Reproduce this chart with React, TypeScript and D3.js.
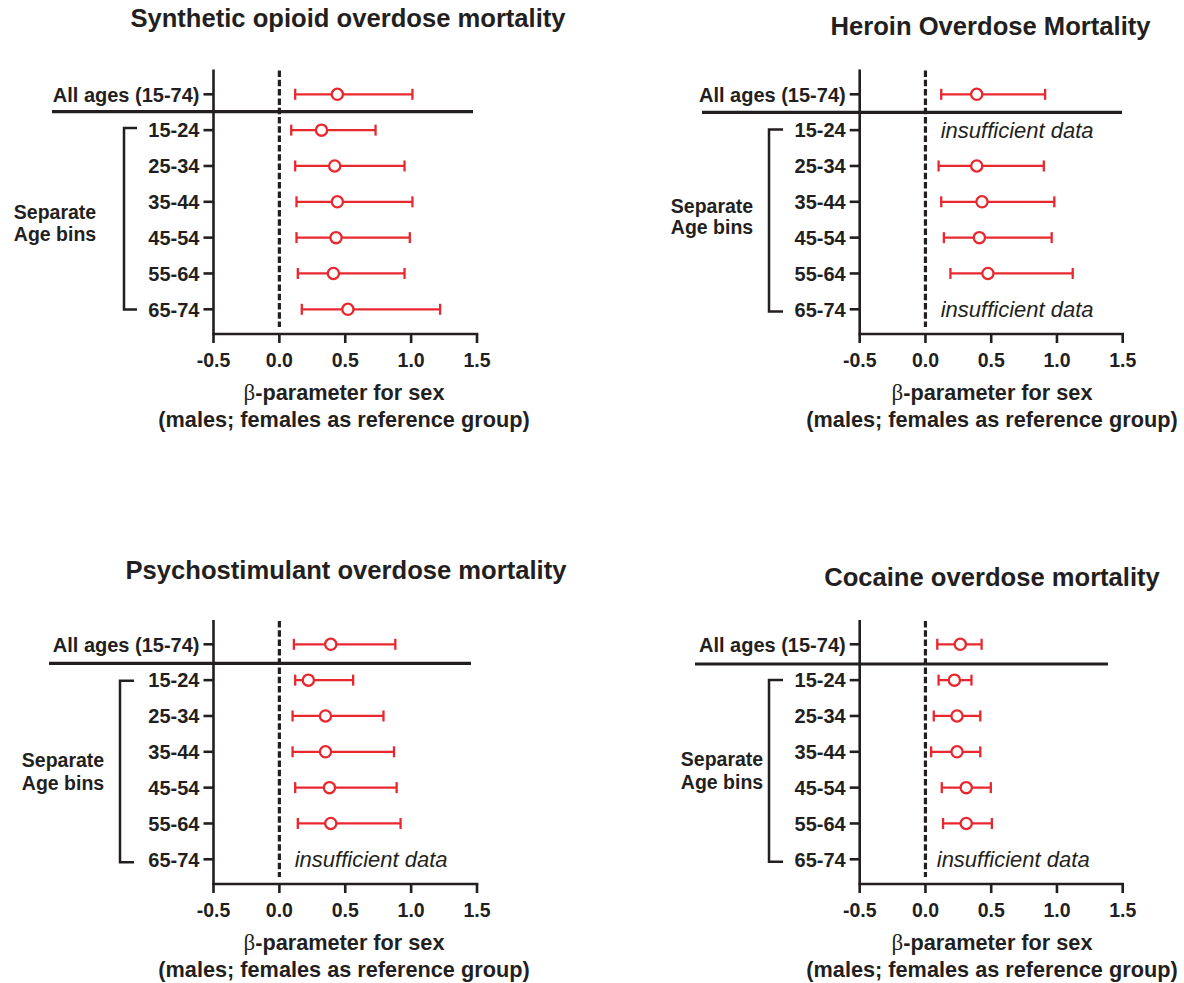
import React from "react";
import * as d3 from "d3";

const AGE_LABELS = ["All ages (15-74)", "15-24", "25-34", "35-44", "45-54", "55-64", "65-74"];
const X_TICKS = [-0.5, 0, 0.5, 1, 1.5];
const X_DOMAIN = [-0.5, 1.5];

const TITLES = [
  "Synthetic opioid overdose mortality",
  "Heroin Overdose Mortality",
  "Psychostimulant overdose mortality",
  "Cocaine overdose mortality",
];

// estimates and 95% CI bounds (null = insufficient data)
const synthEst = [0.44, 0.32, 0.42, 0.44, 0.43, 0.41, 0.52];
const synthLo = [0.12, 0.09, 0.12, 0.13, 0.13, 0.14, 0.17];
const synthHi = [1.01, 0.73, 0.95, 1.01, 0.99, 0.95, 1.22];

const heroinEst = [0.39, null, 0.39, 0.43, 0.41, 0.475, null];
const heroinLo = [0.12, null, 0.1, 0.12, 0.14, 0.19, null];
const heroinHi = [0.91, null, 0.9, 0.98, 0.96, 1.12, null];

const psychoEst = [0.39, 0.22, 0.35, 0.35, 0.38, 0.39, null];
const psychoLo = [0.11, 0.12, 0.1, 0.1, 0.12, 0.14, null];
const psychoHi = [0.88, 0.56, 0.79, 0.87, 0.89, 0.92, null];

const cocaineEst = [0.265, 0.22, 0.24, 0.24, 0.31, 0.31, null];
const cocaineLo = [0.09, 0.1, 0.063, 0.043, 0.124, 0.134, null];
const cocaineHi = [0.427, 0.35, 0.417, 0.417, 0.497, 0.505, null];

const INSUFFICIENT = "insufficient data";
const GROUP_LABEL = ["Separate", "Age bins"];
const BETA = "β";
const AXIS_LABEL_1 = "-parameter for sex";
const AXIS_LABEL_2 = "(males; females as reference group)";

const RED = "#e8282e";
const DARK = "#231f20";
const FONT = "'Liberation Sans', Arial, Helvetica, sans-serif";

type Layout = {
  x0: number; x1: number; rowTop: number; rowBottom: number;
  axisTop: number; axisY: number;
  sepY: number; sepX0: number; sepX1: number;
  brX: number; brArm: number; brTop: number; brBottom: number;
  grpX: number; grpY: number[];
  titleX: number; titleY: number;
  labelX: number; labelY: number[];
  insuffX: number;
};

const LAYOUTS: Layout[] = [
  { x0: 213.5, x1: 477, rowTop: 94.3, rowBottom: 309.3, axisTop: 69.5, axisY: 334,
    sepY: 111.7, sepX0: 52, sepX1: 473, brX: 124, brArm: 137, brTop: 128, brBottom: 309.5,
    grpX: 55, grpY: [218.5, 241], titleX: 348, titleY: 27, labelX: 344, labelY: [400, 427], insuffX: 0.116 },
  { x0: 859.7, x1: 1122.7, rowTop: 94.3, rowBottom: 309.3, axisTop: 69.5, axisY: 334,
    sepY: 112.3, sepX0: 702, sepX1: 1122, brX: 769, brArm: 783, brTop: 129.5, brBottom: 311.5,
    grpX: 712, grpY: [212.7, 234.3], titleX: 990.5, titleY: 35, labelX: 992, labelY: [400, 427], insuffX: 0.116 },
  { x0: 213.5, x1: 477, rowTop: 644.3, rowBottom: 859.3, axisTop: 620, axisY: 884,
    sepY: 663.3, sepX0: 49, sepX1: 471, brX: 120, brArm: 134, brTop: 680.7, brBottom: 862.3,
    grpX: 63, grpY: [767.3, 790], titleX: 346, titleY: 579, labelX: 344, labelY: [950, 977], insuffX: 0.116 },
  { x0: 859.7, x1: 1122.7, rowTop: 644.3, rowBottom: 859.3, axisTop: 620, axisY: 884,
    sepY: 664, sepX0: 695, sepX1: 1108, brX: 769, brArm: 783, brTop: 680, brBottom: 861.7,
    grpX: 722, grpY: [766, 789], titleX: 992, titleY: 586, labelX: 992, labelY: [950, 977], insuffX: 0.086 },
];

const SERIES = [
  { est: synthEst, lo: synthLo, hi: synthHi },
  { est: heroinEst, lo: heroinLo, hi: heroinHi },
  { est: psychoEst, lo: psychoLo, hi: psychoHi },
  { est: cocaineEst, lo: cocaineLo, hi: cocaineHi },
];

const fmtTick = (t: number) => d3.format(".1f")(t).replace("\u2212", "-");

function Panel({ L, s, title }: { L: Layout; s: { est: (number | null)[]; lo: (number | null)[]; hi: (number | null)[] }; title: string }) {
  const x = d3.scaleLinear().domain(X_DOMAIN).range([L.x0, L.x1]);
  const y = d3.scalePoint<string>().domain(AGE_LABELS).range([L.rowTop, L.rowBottom]);
  const cap = 5.5;
  return (
    <g>
      <text x={L.titleX} y={L.titleY} textAnchor="middle" fontSize={25.6} fontWeight="bold" fill={DARK}>{title}</text>
      {/* separator */}
      <line x1={L.sepX0} x2={L.sepX1} y1={L.sepY} y2={L.sepY} stroke={DARK} strokeWidth={3.2} />
      {/* y axis */}
      <line x1={x(X_DOMAIN[0])} x2={x(X_DOMAIN[0])} y1={L.axisTop} y2={L.axisY} stroke={DARK} strokeWidth={2.6} />
      {AGE_LABELS.map((a) => (
        <g key={a}>
          <line x1={x(X_DOMAIN[0]) - 10} x2={x(X_DOMAIN[0])} y1={y(a)} y2={y(a)} stroke={DARK} strokeWidth={2.6} />
          <text x={x(X_DOMAIN[0]) - 14} y={y(a)} dy="0.36em" textAnchor="end" fontSize={20} fontWeight="bold" fill={DARK}>{a}</text>
        </g>
      ))}
      {/* x axis */}
      <line x1={x(X_DOMAIN[0]) - 1.3} x2={x(X_DOMAIN[1]) + 1.3} y1={L.axisY} y2={L.axisY} stroke={DARK} strokeWidth={2.6} />
      {X_TICKS.map((t) => (
        <g key={t}>
          <line x1={x(t)} x2={x(t)} y1={L.axisY} y2={L.axisY + 9} stroke={DARK} strokeWidth={2.6} />
          <text x={x(t)} y={L.axisY + 32.7} textAnchor="middle" fontSize={19.5} fontWeight="bold" fill={DARK}>{fmtTick(t)}</text>
        </g>
      ))}
      {/* zero reference */}
      <line x1={x(0)} x2={x(0)} y1={L.axisTop + 1} y2={L.axisY - 7} stroke={DARK} strokeWidth={3.2} strokeDasharray="6.5 2.8" />
      {/* bracket */}
      <path d={`M${L.brArm},${L.brTop}H${L.brX}V${L.brBottom}H${L.brArm}`} fill="none" stroke={DARK} strokeWidth={2.5} />
      {GROUP_LABEL.map((g, i) => (
        <text key={g} x={L.grpX} y={L.grpY[i]} textAnchor="middle" fontSize={19.5} fontWeight="bold" fill={DARK}>{g}</text>
      ))}
      {/* estimates */}
      {AGE_LABELS.map((a, i) => {
        const e = s.est[i], lo = s.lo[i], hi = s.hi[i];
        const yy = y(a) as number;
        if (e == null || lo == null || hi == null) {
          return (
            <text key={a} x={x(L.insuffX)} y={yy} dy="0.36em" fontSize={22} fontStyle="italic" fill={DARK}>{INSUFFICIENT}</text>
          );
        }
        return (
          <g key={a} stroke={RED} strokeWidth={2.3}>
            <line x1={x(lo)} x2={x(hi)} y1={yy} y2={yy} />
            <line x1={x(lo)} x2={x(lo)} y1={yy - cap} y2={yy + cap} />
            <line x1={x(hi)} x2={x(hi)} y1={yy - cap} y2={yy + cap} />
            <circle cx={x(e)} cy={yy} r={5.6} fill="#fff" />
          </g>
        );
      })}
      <text x={L.labelX} y={L.labelY[0]} textAnchor="middle" fontSize={21.7} fontWeight="bold" fill={DARK}>
        <tspan fontFamily="'Liberation Serif', 'DejaVu Serif', serif" fontWeight="normal" fontSize={23}>{BETA}</tspan>
        <tspan>{AXIS_LABEL_1}</tspan>
      </text>
      <text x={L.labelX} y={L.labelY[1]} textAnchor="middle" fontSize={21.7} fontWeight="bold" fill={DARK}>{AXIS_LABEL_2}</text>
    </g>
  );
}

export default function App() {
  return (
    <svg width={1184} height={983} style={{ position: "absolute", left: 0, top: 0, background: "#fff" }} fontFamily={FONT}>
      <rect width={1184} height={983} fill="#fff" />
      {LAYOUTS.map((L, i) => (
        <Panel key={i} L={L} s={SERIES[i]} title={TITLES[i]} />
      ))}
    </svg>
  );
}
